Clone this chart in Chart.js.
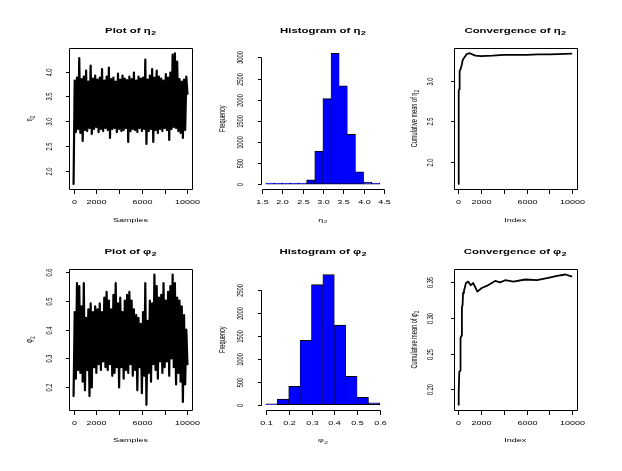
<!DOCTYPE html>
<html>
<head>
<meta charset="utf-8">
<script src="https://cdn.jsdelivr.net/npm/chart.js@4.4.1/dist/chart.umd.min.js"></script>
<style>
  html, body { margin: 0; padding: 0; background: #fff; }
  #wrap { position: relative; width: 622px; height: 471px; overflow: hidden; background: #fff; }
  #wrap canvas { position: absolute; left: 0; top: 0; }
</style>
</head>
<body>
<div id="wrap">
  <canvas id="c1" width="622" height="471"></canvas>
  <canvas id="c2" width="622" height="471"></canvas>
  <canvas id="c3" width="622" height="471"></canvas>
  <canvas id="c4" width="622" height="471"></canvas>
  <canvas id="c5" width="622" height="471"></canvas>
  <canvas id="c6" width="622" height="471"></canvas>
</div>
<script>
// Sample index for the trace plots (one reading every 100 samples)
const sampleIdx = Array.from({ length: 101 }, (_, i) => i * 100);

// Trace of eta2
const etaTrace = [1.73,
  3.82, 2.78, 3.88, 2.84, 4.27, 2.76, 3.85, 2.60, 3.90, 2.82,
  4.02, 2.80, 3.80, 2.86, 4.12, 2.74, 3.86, 2.84, 3.92, 2.88,
  3.84, 2.78, 3.88, 2.84, 4.05, 2.80, 3.82, 2.86, 3.90, 2.82,
  4.08, 2.66, 3.85, 2.84, 3.88, 2.86, 3.80, 2.78, 3.96, 2.84,
  3.84, 2.80, 3.92, 2.82, 3.86, 2.86, 3.83, 2.58, 3.90, 2.80,
  3.85, 2.84, 3.98, 2.82, 3.82, 2.78, 3.90, 2.86, 3.86, 2.80,
  3.88, 2.84, 4.24, 2.54, 3.84, 2.80, 3.92, 2.84, 4.05, 2.58,
  3.88, 2.82, 4.02, 2.76, 3.90, 2.84, 3.86, 2.80, 3.82, 2.86,
  3.95, 2.82, 3.88, 2.62, 3.98, 2.84, 4.34, 2.88, 4.37, 2.86,
  4.20, 2.80, 3.85, 2.76, 3.80, 2.66, 3.84, 2.82, 3.90, 3.55];

// Trace of phi2
const phiTrace = [0.17,
  0.46, 0.23, 0.56, 0.26, 0.55, 0.25, 0.48, 0.22, 0.56, 0.19,
  0.44, 0.26, 0.47, 0.17, 0.49, 0.20, 0.46, 0.27, 0.48, 0.25,
  0.47, 0.28, 0.49, 0.26, 0.46, 0.29, 0.51, 0.27, 0.53, 0.26,
  0.50, 0.28, 0.47, 0.24, 0.52, 0.25, 0.56, 0.27, 0.49, 0.20,
  0.51, 0.27, 0.46, 0.23, 0.50, 0.26, 0.52, 0.25, 0.53, 0.28,
  0.50, 0.24, 0.47, 0.26, 0.45, 0.19, 0.44, 0.27, 0.42, 0.18,
  0.46, 0.24, 0.56, 0.14, 0.43, 0.25, 0.50, 0.22, 0.49, 0.28,
  0.59, 0.26, 0.55, 0.23, 0.51, 0.29, 0.52, 0.25, 0.56, 0.27,
  0.50, 0.29, 0.53, 0.24, 0.55, 0.30, 0.59, 0.27, 0.56, 0.21,
  0.51, 0.25, 0.50, 0.22, 0.48, 0.15, 0.45, 0.21, 0.40, 0.28];

// Histograms
const etaBreaks = [1.6, 1.8, 2.0, 2.2, 2.4, 2.6, 2.8, 3.0, 3.2, 3.4, 3.6, 3.8, 4.0, 4.2, 4.4];
const etaCounts = [2, 1, 1, 1, 3, 100, 780, 2025, 3100, 2330, 1180, 290, 45, 15];
const phiBreaks = [0.1, 0.15, 0.2, 0.25, 0.3, 0.35, 0.4, 0.45, 0.5, 0.55, 0.6];
const phiCounts = [5, 124, 400, 1405, 2615, 2835, 1735, 620, 160, 45];

// Cumulative means
const etaConvIdx = [0, 40, 80, 120, 200, 300, 400, 550, 750, 1000, 1500, 2000, 3000, 4000, 5000, 6000, 7000, 8000, 8800, 10000];
const etaConvMean = [1.72, 2.88, 2.90, 3.13, 3.15, 3.20, 3.27, 3.30, 3.34, 3.35, 3.32, 3.315, 3.32, 3.33, 3.33, 3.33, 3.335, 3.335, 3.34, 3.345];
const phiConvIdx = [0, 20, 40, 60, 90, 160, 200, 280, 320, 380, 420, 500, 680, 880, 1090, 1320, 1680, 2060, 2500, 3240, 3680, 4120, 4850, 5880, 6910, 7790, 8680, 9410, 10000];
const phiConvMean = [0.179, 0.195, 0.178, 0.196, 0.224, 0.226, 0.272, 0.275, 0.315, 0.318, 0.335, 0.338, 0.349, 0.351, 0.346, 0.349, 0.337, 0.342, 0.345, 0.352, 0.350, 0.353, 0.351, 0.354, 0.353, 0.356, 0.359, 0.361, 0.358];

// Ticks
const idxTicks = [0, 2000, 4000, 6000, 8000, 10000];
const idxTickLabels = ['0', '2000', '', '6000', '', '10000'];
const etaTraceTicks = [2.0, 2.5, 3.0, 3.5, 4.0];
const etaTraceLabels = ['2.0', '2.5', '3.0', '3.5', '4.0'];
const etaHistXTicks = [1.5, 2.0, 2.5, 3.0, 3.5, 4.0, 4.5];
const etaHistXLabels = ['1.5', '2.0', '2.5', '3.0', '3.5', '4.0', '4.5'];
const etaHistYTicks = [0, 500, 1000, 1500, 2000, 2500, 3000];
const etaHistYLabels = ['0', '500', '1000', '1500', '2000', '2500', '3000'];
const etaConvTicks = [2.0, 2.5, 3.0];
const etaConvLabels = ['2.0', '2.5', '3.0'];
const phiTraceTicks = [0.2, 0.3, 0.4, 0.5, 0.6];
const phiTraceLabels = ['0.2', '0.3', '0.4', '0.5', '0.6'];
const phiHistXTicks = [0.1, 0.2, 0.3, 0.4, 0.5, 0.6];
const phiHistXLabels = ['0.1', '0.2', '0.3', '0.4', '0.5', '0.6'];
const phiHistYTicks = [0, 500, 1000, 1500, 2000, 2500];
const phiHistYLabels = ['0', '500', '1000', '1500', '2000', '2500'];
const phiConvTicks = [0.20, 0.25, 0.30, 0.35];
const phiConvLabels = ['0.20', '0.25', '0.30', '0.35'];

// Panel geometry (plot boxes on the page)
const colLeft = [69, 261.4, 453.7];
const plotW = 123;
const rowTop = [48, 269.3];
const rowBottom = [189.3, 410];

const FONT = '"Liberation Sans", "DejaVu Sans", sans-serif';
const SX = 1.2, SY = 0.75; // the reference text is stretched sideways

// text with an optional subscript after "_" (e.g. "η_2")
function drawText(ctx, text, x, y, size, bold, rotate) {
  if (!text) return;
  const [main, sub] = text.split('_');
  const w = bold ? 'bold ' : '';
  const subSize = size * 0.75;
  ctx.save();
  ctx.translate(x, y);
  ctx.scale(SX, SY);
  if (rotate) ctx.rotate(-Math.PI / 2);
  ctx.font = w + size + 'px ' + FONT;
  const w1 = ctx.measureText(main).width;
  let w2 = 0;
  if (sub) {
    ctx.font = w + subSize + 'px ' + FONT;
    w2 = ctx.measureText(sub).width + size * 0.05;
  }
  const x0 = -(w1 + w2) / 2;
  ctx.fillStyle = '#000';
  ctx.textAlign = 'left';
  ctx.textBaseline = 'middle';
  ctx.font = w + size + 'px ' + FONT;
  ctx.fillText(main, x0, 0);
  if (sub) {
    ctx.font = w + subSize + 'px ' + FONT;
    ctx.fillText(sub, x0 + w1 + size * 0.05, size * 0.3);
  }
  ctx.restore();
}

// R-style frame: box, axis lines, ticks, labels and titles
function rFrame(cfg) {
  return {
    id: 'rFrame',
    afterDraw(chart) {
      const { ctx, chartArea: a } = chart;
      const x = chart.scales.x, y = chart.scales.y;
      const L = Math.round(a.left) + 0.5, R = Math.round(a.right) + 0.5;
      const T = Math.round(a.top) + 0.5, B = Math.round(a.bottom) + 0.5;
      const xs = cfg.xTicks.map(v => Math.round(x.getPixelForValue(v)) + 0.5);
      const ys = cfg.yTicks.map(v => Math.round(y.getPixelForValue(v)) + 0.5);
      ctx.save();
      ctx.strokeStyle = '#000';
      ctx.lineWidth = 1;
      ctx.beginPath();
      if (cfg.box) ctx.rect(L, T, R - L, B - T);
      ctx.moveTo(xs[0], B); ctx.lineTo(xs[xs.length - 1], B);
      xs.forEach(px => { ctx.moveTo(px, B); ctx.lineTo(px, B + 4.5); });
      ctx.moveTo(L, ys[0]); ctx.lineTo(L, ys[ys.length - 1]);
      ys.forEach(py => { ctx.moveTo(L, py); ctx.lineTo(L - 3.5, py); });
      ctx.stroke();
      ctx.restore();

      xs.forEach((px, i) => drawText(ctx, cfg.xLabels[i], px, a.bottom + 13.5, 7.5, false, false));
      ys.forEach((py, i) => drawText(ctx, cfg.yLabels[i], a.left - cfg.yLabGap, py, 7.5, false, true));
      const cx = (a.left + a.right) / 2, cy = (a.top + a.bottom) / 2;
      drawText(ctx, cfg.title, cx, a.top - 17, 9.5, true, false);
      drawText(ctx, cfg.xTitle, cx, a.bottom + 30.7, 7.5, false, false);
      drawText(ctx, cfg.yTitle, a.left - 39, cy, 7.5, false, true);
    }
  };
}

// R's default 4% axis expansion
function rRange(lo, hi) {
  const d = (hi - lo) * 0.04;
  return [lo - d, hi + d];
}

function panel(id, col, row, type, datasets, xr, yr, cfg) {
  const left = colLeft[col], top = rowTop[row];
  return new Chart(document.getElementById(id), {
    type: type,
    data: { datasets: datasets },
    options: {
      responsive: false,
      animation: false,
      events: [],
      layout: {
        padding: { left: left, right: 622 - (left + plotW), top: top, bottom: 471 - rowBottom[row] }
      },
      plugins: { legend: { display: false }, tooltip: { enabled: false }, title: { display: false } },
      scales: {
        x: { type: 'linear', display: false, offset: false, min: xr[0], max: xr[1] },
        y: { type: 'linear', display: false, min: yr[0], max: yr[1] }
      }
    },
    plugins: [rFrame(cfg)]
  });
}

function traceSet(vals) {
  return [{
    data: vals.map((v, i) => ({ x: sampleIdx[i], y: v })),
    borderColor: '#000', borderWidth: 2.2, pointRadius: 0, tension: 0,
    borderJoinStyle: 'round', borderCapStyle: 'round', fill: false
  }];
}

function histSet(breaks, counts) {
  return [{
    data: counts.map((c, i) => ({ x: (breaks[i] + breaks[i + 1]) / 2, y: c })),
    backgroundColor: '#0000FF', borderColor: '#000',
    borderWidth: { top: 1, bottom: 1, left: 0.5, right: 0.5 },
    borderSkipped: false, barPercentage: 1, categoryPercentage: 1, minBarLength: 1
  }];
}

function convSet(idx, vals) {
  return [{
    data: vals.map((v, i) => ({ x: idx[i], y: v })),
    borderColor: '#000', borderWidth: 1.8, pointRadius: 0, tension: 0,
    borderJoinStyle: 'round', fill: false
  }];
}

const idxRange = rRange(0, 10000);

panel('c1', 0, 0, 'line', traceSet(etaTrace), idxRange,
  rRange(Math.min(...etaTrace), Math.max(...etaTrace)),
  { box: true, title: 'Plot of η_2', xTitle: 'Samples', yTitle: 'η_2',
    xTicks: idxTicks, xLabels: idxTickLabels, yTicks: etaTraceTicks, yLabels: etaTraceLabels, yLabGap: 19.5 });

panel('c2', 1, 0, 'bar', histSet(etaBreaks, etaCounts),
  rRange(etaBreaks[0], etaBreaks[etaBreaks.length - 1]),
  rRange(0, Math.max(...etaCounts)),
  { box: false, title: 'Histogram of η_2', xTitle: 'η_2', yTitle: 'Frequency',
    xTicks: etaHistXTicks, xLabels: etaHistXLabels, yTicks: etaHistYTicks, yLabels: etaHistYLabels, yLabGap: 20.6 });

panel('c3', 2, 0, 'line', convSet(etaConvIdx, etaConvMean), idxRange,
  rRange(Math.min(...etaConvMean), Math.max(...etaConvMean)),
  { box: true, title: 'Convergence of η_2', xTitle: 'Index', yTitle: 'Cumulative mean of η_2',
    xTicks: idxTicks, xLabels: idxTickLabels, yTicks: etaConvTicks, yLabels: etaConvLabels, yLabGap: 23 });

panel('c4', 0, 1, 'line', traceSet(phiTrace), idxRange,
  rRange(Math.min(...phiTrace), Math.max(...phiTrace)),
  { box: true, title: 'Plot of φ_2', xTitle: 'Samples', yTitle: 'φ_2',
    xTicks: idxTicks, xLabels: idxTickLabels, yTicks: phiTraceTicks, yLabels: phiTraceLabels, yLabGap: 19.5 });

panel('c5', 1, 1, 'bar', histSet(phiBreaks, phiCounts),
  rRange(phiBreaks[0], phiBreaks[phiBreaks.length - 1]),
  rRange(0, Math.max(...phiCounts)),
  { box: false, title: 'Histogram of φ_2', xTitle: 'φ_2', yTitle: 'Frequency',
    xTicks: phiHistXTicks, xLabels: phiHistXLabels, yTicks: phiHistYTicks, yLabels: phiHistYLabels, yLabGap: 20.6 });

panel('c6', 2, 1, 'line', convSet(phiConvIdx, phiConvMean), idxRange,
  rRange(Math.min(...phiConvMean), Math.max(...phiConvMean)),
  { box: true, title: 'Convergence of φ_2', xTitle: 'Index', yTitle: 'Cumulative mean of φ_2',
    xTicks: idxTicks, xLabels: idxTickLabels, yTicks: phiConvTicks, yLabels: phiConvLabels, yLabGap: 23 });
</script>
</body>
</html>
